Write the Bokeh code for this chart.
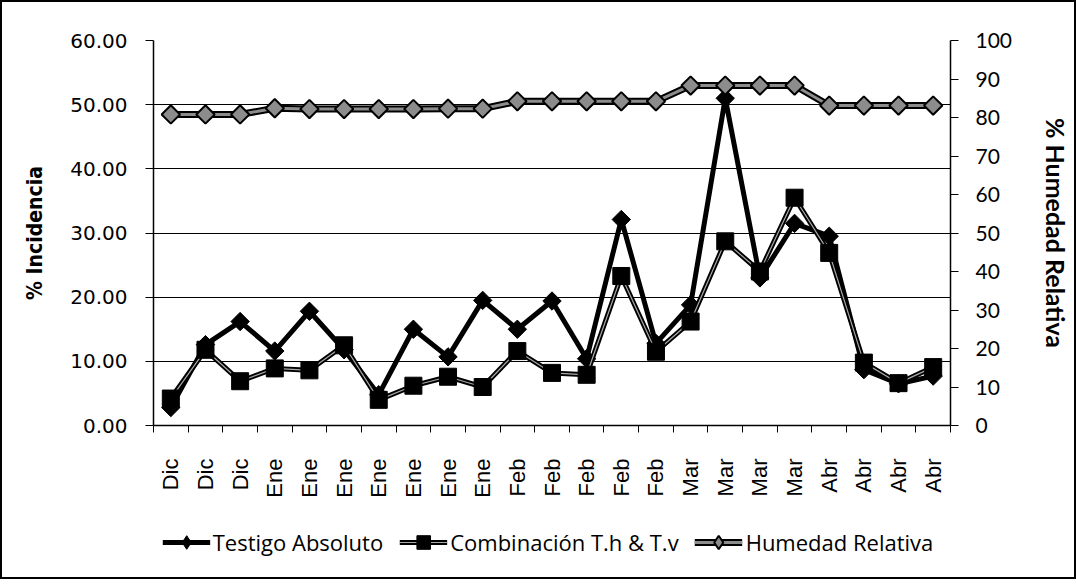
import math
from bokeh.plotting import figure
from bokeh.layouts import column
from bokeh.models import (Range1d, LinearAxis, FixedTicker, CustomJSTickFormatter,
                          NumeralTickFormatter, Legend, LegendItem, ColumnDataSource)
from bokeh.embed import file_html
from bokeh.resources import INLINE

months = ["Dic", "Dic", "Dic", "Ene", "Ene", "Ene", "Ene", "Ene", "Ene", "Ene",
          "Feb", "Feb", "Feb", "Feb", "Feb", "Mar", "Mar", "Mar", "Mar",
          "Abr", "Abr", "Abr", "Abr"]
testigo = [2.8, 12.6, 16.2, 11.6, 17.8, 11.8, 4.8, 15.0, 10.7, 19.5, 15.0, 19.4,
           10.4, 32.1, 12.8, 18.8, 51.0, 23.0, 31.5, 29.5, 8.7, 6.5, 7.7]
combinacion = [4.2, 11.8, 6.9, 8.9, 8.6, 12.5, 4.0, 6.2, 7.6, 6.0, 11.6, 8.2,
               7.9, 23.3, 11.5, 16.2, 28.7, 24.0, 35.5, 26.9, 9.8, 6.6, 9.1]
humedad = [80.8, 80.8, 80.8, 82.4, 82.2, 82.2, 82.2, 82.2, 82.3, 82.3, 84.2, 84.2,
           84.2, 84.2, 84.2, 88.3, 88.3, 88.3, 88.3, 83.1, 83.1, 83.1, 83.1]
series_names = ["Testigo Absoluto", "Combinación T.h & T.v", "Humedad Relativa"]
left_ticks = [0, 10, 20, 30, 40, 50, 60]
right_ticks = [0, 10, 20, 30, 40, 50, 60, 70, 80, 90, 100]

n = len(months)
xs = [i + 0.5 for i in range(n)]
src = ColumnDataSource(dict(x=xs, t=testigo, c=combinacion, h=humedad))


def add_series(fig, hum_range, for_legend=False):
    dmark = dict(marker="diamond") if for_legend else dict(marker="square", angle=math.pi / 4)
    r1 = fig.line("x", "t", source=src, line_color="black", line_width=5)
    s1 = fig.scatter("x", "t", source=src, size=13, fill_color="black",
                     line_color="black", line_width=1, **dmark)
    r2 = fig.line("x", "c", source=src, line_color="black", line_width=5)
    r2b = fig.line("x", "c", source=src, line_color="#a8a8a8", line_width=1.2)
    s2 = fig.scatter("x", "c", source=src, marker="square", size=17,
                     fill_color="black", line_color="black", line_width=1)
    kw = {} if hum_range is None else {"y_range_name": hum_range}
    r3 = fig.line("x", "h", source=src, line_color="black", line_width=7, **kw)
    r3b = fig.line("x", "h", source=src, line_color="#8c8c8c", line_width=3, **kw)
    s3 = fig.scatter("x", "h", source=src, size=13, fill_color="#8c8c8c",
                     line_color="black", line_width=2, **dmark, **kw)
    return [[r1, s1], [r2, r2b, s2], [r3, r3b, s3]]


# ---------------- main chart ----------------
p = figure(frame_width=797, frame_height=385,
           min_border_left=151, min_border_right=116,
           min_border_top=38, min_border_bottom=82,
           x_range=Range1d(0, n), y_range=Range1d(0, 60),
           output_backend="svg", toolbar_location=None)
p.outline_line_color = None
p.background_fill_color = "white"
p.border_fill_color = "white"
p.extra_y_ranges = {"hum": Range1d(0, 100)}

ya = p.yaxis[0]
ya.ticker = FixedTicker(ticks=left_ticks)
ya.formatter = NumeralTickFormatter(format="0.00")
ya.axis_label = "% Incidencia"
ya.axis_label_text_font = "DejaVu Sans Condensed"
ya.axis_label_text_font_style = "bold"
ya.axis_label_text_font_size = "21px"
ya.axis_label_text_color = "black"
ya.axis_label_standoff = 20
ya.major_label_text_font = "DejaVu Sans"
ya.major_label_text_font_size = "20px"
ya.major_label_text_color = "black"
ya.major_label_standoff = 18
ya.major_tick_out = 8
ya.major_tick_in = 0
ya.minor_tick_out = 0
ya.minor_tick_in = 0
ya.axis_line_color = "black"
ya.axis_line_width = 1.5
ya.major_tick_line_color = "black"

ra = LinearAxis(y_range_name="hum", ticker=FixedTicker(ticks=right_ticks))
ra.axis_label = "% Humedad Relativa"
ra.axis_label_text_font = "Lato"
ra.axis_label_text_font_style = "bold"
ra.axis_label_text_font_size = "25px"
ra.axis_label_text_color = "black"
ra.axis_label_standoff = 26
ra.major_label_text_font = "Lato"
ra.major_label_text_font_size = "21px"
ra.major_label_text_color = "black"
ra.major_label_standoff = 17
ra.major_tick_out = 8
ra.major_tick_in = 0
ra.minor_tick_out = 0
ra.minor_tick_in = 0
ra.axis_line_color = "black"
ra.axis_line_width = 1.5
ra.major_tick_line_color = "black"
p.add_layout(ra, "right")

xa = p.xaxis[0]
xa.ticker = FixedTicker(ticks=xs, minor_ticks=list(range(n + 1)))
xa.formatter = CustomJSTickFormatter(args=dict(labels=months),
                                     code="return labels[Math.floor(tick)];")
xa.major_label_orientation = math.pi / 2
xa.major_label_text_font = "Liberation Sans"
xa.major_label_text_font_size = "22px"
xa.major_label_text_color = "black"
xa.major_label_standoff = 26
xa.major_tick_out = 0
xa.major_tick_in = 0
xa.minor_tick_out = 7
xa.minor_tick_in = 0
xa.minor_tick_line_color = "black"
xa.axis_line_color = "black"
xa.axis_line_width = 1.5

p.xgrid.visible = False
p.ygrid.ticker = FixedTicker(ticks=left_ticks)
p.ygrid.grid_line_color = "black"
p.ygrid.grid_line_width = 1.2

add_series(p, "hum")

# ---------------- legend strip (same series, legend only) ----------------
lf = figure(width=1064, height=70, x_range=Range1d(-20, -19), y_range=Range1d(-20, -19),
            x_axis_location=None, y_axis_location=None,
            min_border_left=0, min_border_right=0, min_border_top=0, min_border_bottom=0,
            output_backend="svg", toolbar_location=None)
lf.outline_line_color = None
lf.xgrid.visible = False
lf.ygrid.visible = False
lf.background_fill_color = "white"
lf.border_fill_color = "white"
leg_renderers = add_series(lf, None, for_legend=True)

legend = Legend(items=[LegendItem(label=name, renderers=rs)
                       for name, rs in zip(series_names, leg_renderers)],
                location="center", orientation="horizontal")
legend.glyph_width = 48
legend.glyph_height = 34
legend.label_height = 34
legend.label_standoff = 3
legend.spacing = 16
legend.padding = 0
legend.margin = 0
legend.border_line_alpha = 0
legend.background_fill_alpha = 0
legend.label_text_font = "Open Sans"
legend.label_text_font_size = "22px"
legend.label_text_color = "black"
lf.add_layout(legend, "center")

layout = column(p, lf, spacing=0)
layout.styles = {"border": "2px solid black"}

open("out.html", "w").write(file_html(layout, INLINE))
